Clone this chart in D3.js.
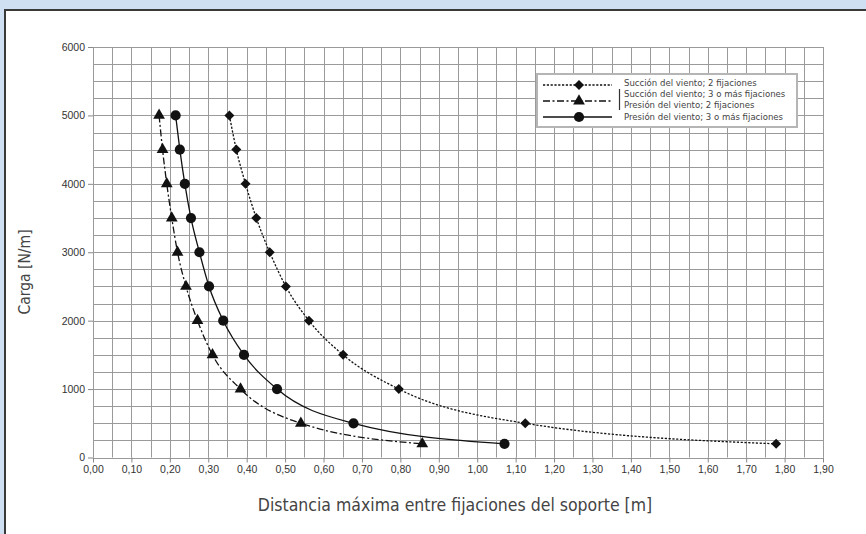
<!DOCTYPE html>
<html>
<head>
<meta charset="utf-8">
<script src="https://cdn.jsdelivr.net/npm/d3@7"></script>
<style>
  html, body { margin: 0; padding: 0; background: #cfe0f2; }
  svg { display: block; }
</style>
</head>
<body>
<svg id="chart" width="866" height="534"></svg>
<script>
// Load levels [N/m] and maximum bracket spacing [m] for each case
const loads = [5000, 4500, 4000, 3500, 3000, 2500, 2000, 1500, 1000, 500, 200];
const succion2 = [0.355, 0.373, 0.397, 0.425, 0.460, 0.502, 0.562, 0.651, 0.796, 1.125, 1.778];
const presion2 = [0.172, 0.181, 0.192, 0.205, 0.220, 0.242, 0.272, 0.311, 0.384, 0.541, 0.857];
const presion3 = [0.215, 0.226, 0.239, 0.255, 0.277, 0.302, 0.339, 0.393, 0.479, 0.678, 1.071];

const yTicks = [0, 1000, 2000, 3000, 4000, 5000, 6000];
const xTicks = [0, 0.1, 0.2, 0.3, 0.4, 0.5, 0.6, 0.7, 0.8, 0.9, 1.0, 1.1, 1.2, 1.3, 1.4, 1.5, 1.6, 1.7, 1.8, 1.9];

const legendLabels = [
  "Succión del viento; 2 fijaciones",
  "Succión del viento; 3 o más fijaciones",
  "Presión del viento; 2 fijaciones",
  "Presión del viento; 3 o más fijaciones"
];

const narrow = "'Liberation Sans Narrow', 'DejaVu Sans Condensed', 'Arial Narrow', sans-serif";
const sans = "'Liberation Sans', Arial, Helvetica, sans-serif";

const svg = d3.select("#chart");

// white panel with dark frame
svg.append("rect")
  .attr("x", 5).attr("y", 10)
  .attr("width", 880).attr("height", 540)
  .attr("fill", "#fff")
  .attr("stroke", "#3a3a3a").attr("stroke-width", 2);

const x = d3.scaleLinear().domain([0, 1.9]).range([93, 823]);
const y = d3.scaleLinear().domain([0, 6000]).range([457.5, 47]);

// grid every 0.05 m and every 250 N/m
const gx = d3.range(0, 1.9 + 1e-9, 0.05);
const gy = d3.range(0, 6000 + 1e-9, 250);
const grid = svg.append("g").attr("stroke", "#9a9a9a").attr("stroke-width", 1);
grid.selectAll("line.v").data(gx).join("line")
  .attr("class", "v")
  .attr("x1", d => Math.round(x(d)) + 0.5).attr("x2", d => Math.round(x(d)) + 0.5)
  .attr("y1", y(6000)).attr("y2", y(0));
grid.selectAll("line.h").data(gy).join("line")
  .attr("class", "h")
  .attr("y1", d => Math.round(y(d)) + 0.5).attr("y2", d => Math.round(y(d)) + 0.5)
  .attr("x1", x(0)).attr("x2", x(1.9));

// axes
const yAxis = d3.axisLeft(y).tickValues(yTicks).tickSize(5).tickPadding(3).tickFormat(d3.format("d"));
const xAxis = d3.axisBottom(x).tickValues(xTicks).tickSize(5).tickPadding(3)
  .tickFormat(d => d.toFixed(2).replace(".", ","));

const ya = svg.append("g").attr("transform", `translate(${x(0)},0)`).call(yAxis);
const xa = svg.append("g").attr("transform", `translate(0,${y(0)})`).call(xAxis);
[ya, xa].forEach(a => {
  a.select(".domain").remove();
  a.selectAll(".tick line").attr("stroke", "#888");
  a.selectAll(".tick text").attr("fill", "#333").style("font-family", sans).style("font-size", "10.5px");
});

// axis titles
svg.append("text")
  .attr("transform", "translate(30,272) rotate(-90)")
  .attr("text-anchor", "middle")
  .attr("fill", "#444")
  .style("font-family", narrow).style("font-size", "15.5px")
  .text("Carga [N/m]");

svg.append("text")
  .attr("x", 455).attr("y", 511)
  .attr("text-anchor", "middle")
  .attr("fill", "#444")
  .style("font-family", narrow).style("font-size", "17.5px")
  .text("Distancia máxima entre fijaciones del soporte [m]");

// series
const series = [
  { xs: succion2, dash: "2.2,1.6", marker: "diamond" },
  { xs: presion2, dash: "7,2.5,2,2.5", marker: "triangle" },
  { xs: presion3, dash: null, marker: "circle" }
];

const line = d3.line().x(d => x(d[0])).y(d => y(d[1])).curve(d3.curveMonotoneX);

const symbolFor = {
  diamond: d3.symbol().type(d3.symbolSquare).size(50),
  triangle: d3.symbol().type(d3.symbolTriangle).size(60),
  circle: d3.symbol().type(d3.symbolCircle).size(82)
};

series.forEach(s => {
  const pts = s.xs.map((v, i) => [v, loads[i]]).sort((a, b) => a[0] - b[0]);
  svg.append("path")
    .attr("d", line(pts))
    .attr("fill", "none")
    .attr("stroke", "#111")
    .attr("stroke-width", 1.3)
    .attr("stroke-dasharray", s.dash);
  svg.append("g").selectAll("path").data(pts).join("path")
    .attr("d", symbolFor[s.marker]())
    .attr("transform", d => `translate(${x(d[0])},${y(d[1])})` + (s.marker === "diamond" ? " rotate(45)" : ""))
    .attr("fill", "#111");
});

// legend
const lg = svg.append("g");
lg.append("rect")
  .attr("x", 537).attr("y", 74).attr("width", 260).attr("height", 53)
  .attr("fill", "#fff").attr("stroke", "#b5b5b5").attr("stroke-width", 2);

const textX = 624;
const textYs = [83, 94, 104.5, 117];
lg.selectAll("text").data(legendLabels).join("text")
  .attr("x", textX).attr("y", (d, i) => textYs[i])
  .attr("dy", "0.35em")
  .attr("fill", "#444")
  .style("font-family", narrow).style("font-size", "9.5px")
  .text(d => d);

const legendRows = [
  { yy: 85, s: series[0] },
  { yy: 101, s: series[1] },
  { yy: 117, s: series[2] }
];
legendRows.forEach(r => {
  lg.append("line")
    .attr("x1", 543).attr("x2", 612).attr("y1", r.yy).attr("y2", r.yy)
    .attr("stroke", "#111").attr("stroke-width", 1.3)
    .attr("stroke-dasharray", r.s.dash);
  lg.append("path")
    .attr("d", symbolFor[r.s.marker]())
    .attr("transform", `translate(579,${r.yy})` + (r.s.marker === "diamond" ? " rotate(45)" : ""))
    .attr("fill", "#111");
});
// bracket joining the two cases that share a curve
lg.append("line")
  .attr("x1", 619.5).attr("x2", 619.5).attr("y1", 89).attr("y2", 110)
  .attr("stroke", "#333").attr("stroke-width", 1.2);
</script>
</body>
</html>
